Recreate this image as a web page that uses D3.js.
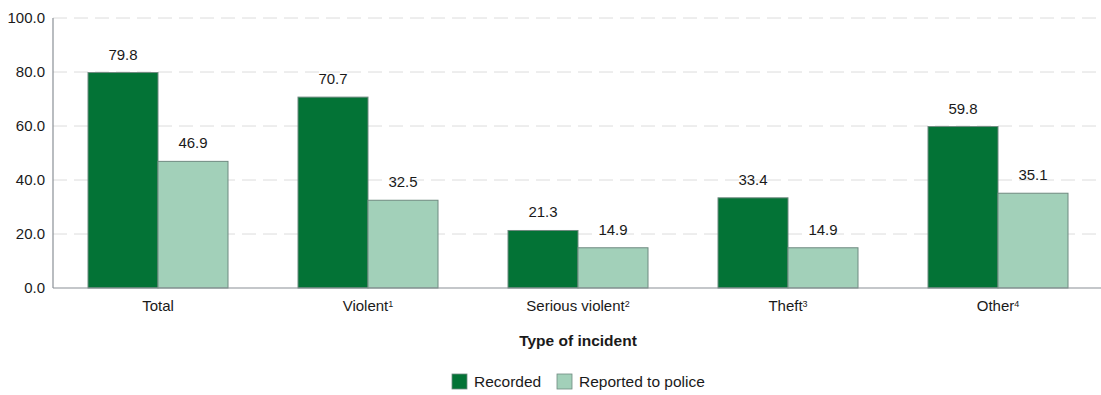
<!DOCTYPE html>
<html>
<head>
<meta charset="utf-8">
<script src="https://cdn.jsdelivr.net/npm/d3@7"></script>
<style>
  body { margin: 0; background: #fff; }
  text { font-family: Arial, "Liberation Sans", sans-serif; fill: #1a1a1a; }
</style>
</head>
<body>
<div id="chart-area"></div>
<script>
// Data
var categories = ["Total", "Violent", "Serious violent", "Theft", "Other"];
var footnotes = ["", "1", "2", "3", "4"];
var seriesNames = ["Recorded", "Reported to police"];
var recorded = [79.8, 70.7, 21.3, 33.4, 59.8];
var reported = [46.9, 32.5, 14.9, 14.9, 35.1];
var yTicks = [0, 20, 40, 60, 80, 100];

var colors = ["#037336", "#a2d0b9"];

var width = 1101, height = 395;
var margin = {top: 18, right: -2, bottom: 107, left: 53};

var svg = d3.select("#chart-area").append("svg")
    .attr("width", width)
    .attr("height", height);

var x = d3.scaleBand()
    .domain(categories)
    .range([margin.left, width - margin.right])
    .paddingInner(1 / 3)
    .paddingOuter(1 / 6);

var x1 = d3.scaleBand()
    .domain([0, 1])
    .range([0, x.bandwidth()]);

var y = d3.scaleLinear()
    .domain([0, 100])
    .range([height - margin.bottom, margin.top]);

// Gridlines
svg.append("g")
    .selectAll("line")
    .data(yTicks.filter((d) => d > 0))
    .enter().append("line")
    .attr("x1", margin.left)
    .attr("x2", width)
    .attr("y1", (d) => y(d))
    .attr("y2", (d) => y(d))
    .attr("stroke", "#dcdcdc")
    .attr("stroke-width", 1)
    .attr("stroke-dasharray", "14,7");

// Y axis labels
svg.append("g")
    .selectAll("text")
    .data(yTicks)
    .enter().append("text")
    .attr("x", margin.left - 8)
    .attr("y", (d) => y(d))
    .attr("dy", "0.36em")
    .attr("text-anchor", "end")
    .style("font-size", "15px")
    .text((d) => d3.format(".1f")(d));

// Bars
var rows = categories.map((c, i) => ({cat: c, vals: [recorded[i], reported[i]]}));

var groups = svg.append("g")
    .selectAll("g")
    .data(rows)
    .enter().append("g")
    .attr("transform", (d) => "translate(" + x(d.cat) + ",0)");

groups.selectAll("rect")
    .data((d) => d.vals.map((v, j) => ({v: v, j: j})))
    .enter().append("rect")
    .attr("x", (d) => x1(d.j))
    .attr("width", x1.bandwidth())
    .attr("y", (d) => y(d.v))
    .attr("height", (d) => y(0) - y(d.v))
    .attr("fill", (d) => colors[d.j])
    .attr("stroke", "#6f8a80")
    .attr("stroke-width", 1);

groups.selectAll("text.val")
    .data((d) => d.vals.map((v, j) => ({v: v, j: j})))
    .enter().append("text")
    .attr("class", "val")
    .attr("x", (d) => x1(d.j) + x1.bandwidth() / 2)
    .attr("y", (d) => y(d.v) - 13)
    .attr("text-anchor", "middle")
    .style("font-size", "15px")
    .text((d) => d.v.toFixed(1));

// Axis lines
svg.append("line")
    .attr("x1", margin.left).attr("x2", margin.left)
    .attr("y1", y(100)).attr("y2", y(0))
    .attr("stroke", "#8a9096").attr("stroke-width", 1.2);
svg.append("line")
    .attr("x1", margin.left).attr("x2", width)
    .attr("y1", y(0)).attr("y2", y(0))
    .attr("stroke", "#8a9096").attr("stroke-width", 1.2);

// Category labels with footnote superscripts
var catLabels = svg.append("g")
    .selectAll("text")
    .data(categories)
    .enter().append("text")
    .attr("x", (d) => x(d) + x.bandwidth() / 2)
    .attr("y", y(0) + 23)
    .attr("text-anchor", "middle")
    .style("font-size", "15px");
catLabels.append("tspan").text((d) => d);
catLabels.append("tspan")
    .attr("dy", "-0.45em")
    .style("font-size", "9px")
    .text((d, i) => footnotes[i]);

// X axis title
svg.append("text")
    .attr("x", x(categories[2]) + x.bandwidth() / 2)
    .attr("y", 346)
    .attr("text-anchor", "middle")
    .style("font-size", "15.5px")
    .style("font-weight", "bold")
    .text("Type of incident");

// Legend
var legendX = [452, 557];
var legend = svg.append("g")
    .selectAll("g")
    .data(seriesNames)
    .enter().append("g")
    .attr("transform", (d, i) => "translate(" + legendX[i] + ",374)");
legend.append("rect")
    .attr("width", 15).attr("height", 15)
    .attr("fill", (d, i) => colors[i])
    .attr("stroke", "#6f8a80").attr("stroke-width", 0.8);
legend.append("text")
    .attr("x", 22)
    .attr("y", 7.5)
    .attr("dy", "0.36em")
    .style("font-size", "15.5px")
    .text((d) => d);
</script>
</body>
</html>
